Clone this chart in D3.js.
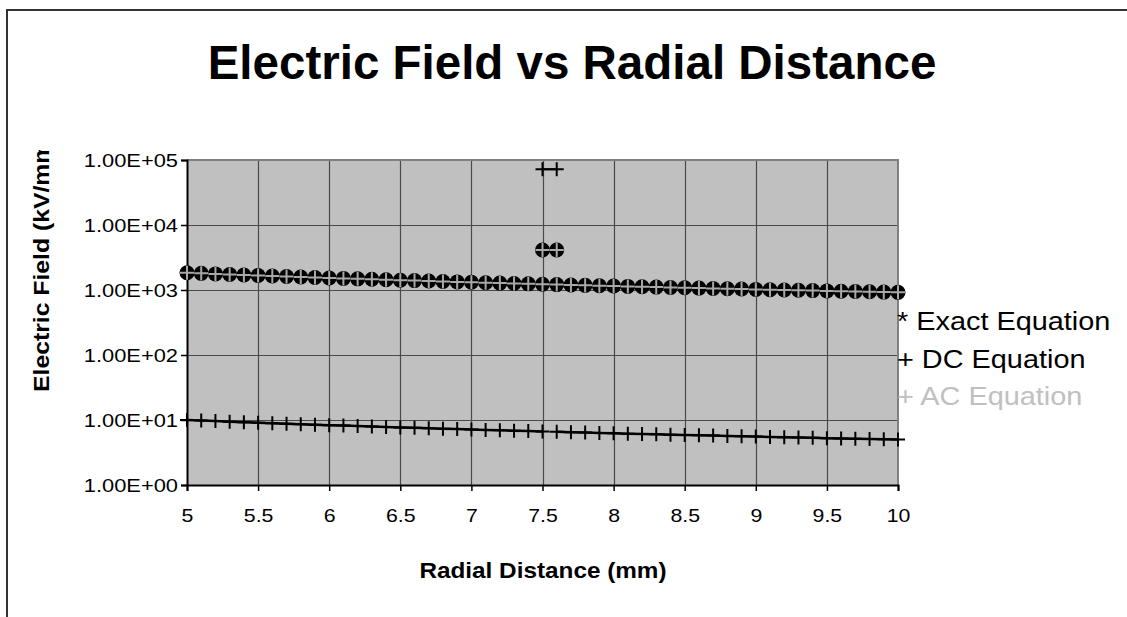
<!DOCTYPE html>
<html><head><meta charset="utf-8">
<script src="https://cdn.jsdelivr.net/npm/d3@7"></script>
<style>body{margin:0;background:#fff}svg{display:block}text{font-family:Arial,"Liberation Sans",sans-serif}</style>
</head><body><svg id="c" width="1127" height="617"></svg>
<script>
const radial = [5.0,5.1,5.2,5.3,5.4,5.5,5.6,5.7,5.8,5.9,6.0,6.1,6.2,6.3,6.4,6.5,6.6,6.7,6.8,6.9,7.0,7.1,7.2,7.3,7.4,7.5,7.6,7.7,7.8,7.9,8.0,8.1,8.2,8.3,8.4,8.5,8.6,8.7,8.8,8.9,9.0,9.1,9.2,9.3,9.4,9.5,9.6,9.7,9.8,9.9,10.0];
const exactEq = [1840,1804,1769,1736,1704,1673,1643,1614,1586,1559,1533,1508,1484,1460,1438,1415,1394,1373,1353,1333,1314,1296,1278,1260,1243,1227,1211,1195,1179,1165,1150,1136,1122,1108,1095,1082,1070,1057,1045,1034,1022,1011,1000,989,979,968,958,948,939,929,920];
const acEq = [1840,1804,1769,1736,1704,1673,1643,1614,1586,1559,1533,1508,1484,1460,1438,1415,1394,1373,1353,1333,1314,1296,1278,1260,1243,1227,1211,1195,1179,1165,1150,1136,1122,1108,1095,1082,1070,1057,1045,1034,1022,1011,1000,989,979,968,958,948,939,929,920];
const dcEq = [10.0,9.80,9.62,9.43,9.26,9.09,8.93,8.77,8.62,8.47,8.33,8.20,8.06,7.94,7.81,7.69,7.58,7.46,7.35,7.25,7.14,7.04,6.94,6.85,6.76,6.67,6.58,6.49,6.41,6.33,6.25,6.17,6.10,6.02,5.95,5.88,5.81,5.75,5.68,5.62,5.56,5.49,5.43,5.38,5.32,5.26,5.21,5.15,5.10,5.05,5.00];
const dcBreakAfter = 7.5;
const spikeRadial = [7.5, 7.6];
const spikeExact = [4120, 4120];
const spikeAC = [4120, 4120];
const spikeDC = [72000, 72000];
const xTicks = [5,5.5,6,6.5,7,7.5,8,8.5,9,9.5,10];
const yTicks = [1,10,100,1000,10000,100000];
const yTickLabels = ["1.00E+00","1.00E+01","1.00E+02","1.00E+03","1.00E+04","1.00E+05"];
const legendItems = ["* Exact Equation","+ DC Equation","+ AC Equation"];

const svg = d3.select("#c");
const L=187,R=898,T=160,B=485;
const x = d3.scaleLinear().domain([5,10]).range([L,R]);
const y = d3.scaleLog().domain([1,100000]).range([B,T]);

function stretch(sel,k){ sel.each(function(){ const n=this; const len=n.getComputedTextLength(); d3.select(n).attr("textLength",len*k).attr("lengthAdjust","spacingAndGlyphs"); }); }

// outer frame
svg.append("path").attr("d","M7,617V10H1127").attr("fill","none").attr("stroke","#333").attr("stroke-width",2);

// title
svg.append("text").attr("x",572).attr("y",79).attr("text-anchor","middle")
  .attr("font-size",47.5).attr("font-weight","bold").text("Electric Field vs Radial Distance");

// plot background
svg.append("rect").attr("x",L).attr("y",T).attr("width",R-L).attr("height",B-T).attr("fill","#c0c0c0");

// grid
const g = svg.append("g");
g.selectAll(".hg").data(yTicks.slice(1,-1)).join("line")
  .attr("x1",L).attr("x2",R).attr("y1",d=>Math.round(y(d))+0.5).attr("y2",d=>Math.round(y(d))+0.5)
  .attr("stroke","#4a4a4a").attr("stroke-width",1.2);
g.selectAll(".vg").data(xTicks.slice(1,-1)).join("line")
  .attr("y1",T).attr("y2",B).attr("x1",d=>Math.round(x(d))+0.5).attr("x2",d=>Math.round(x(d))+0.5)
  .attr("stroke","#4a4a4a").attr("stroke-width",1.2);
// top & right border
svg.append("path").attr("d",`M${L},${T}H${R}V${B}`).attr("fill","none").attr("stroke","#808080").attr("stroke-width",2);

// axes
const yAxis = d3.axisLeft(y).tickValues(yTicks).tickFormat((d,i)=>yTickLabels[i]).tickSize(6).tickPadding(3);
const ya = svg.append("g").attr("transform",`translate(${L},0)`).call(yAxis);
const xAxis = d3.axisBottom(x).tickValues(xTicks).tickFormat(d=>String(d)).tickSize(6).tickPadding(18);
const xa = svg.append("g").attr("transform",`translate(0,${B})`).call(xAxis);
[ya,xa].forEach(a=>{
  a.select(".domain").attr("stroke","#000").attr("stroke-width",2);
  a.selectAll(".tick line").attr("stroke","#000").attr("stroke-width",1.5);
  a.selectAll(".tick text").attr("font-size",19).attr("fill","#000").attr("font-family","Arial,'Liberation Sans',sans-serif");
});
stretch(ya.selectAll(".tick text"),1.15);
stretch(xa.selectAll(".tick text"),1.12);

// axis titles
const xt = svg.append("text").attr("x",543).attr("y",578).attr("text-anchor","middle")
  .attr("font-size",22.5).attr("font-weight","bold").text("Radial Distance (mm)");
stretch(xt,1.08);
svg.append("clipPath").attr("id","ytclip").append("rect").attr("x",0).attr("y",150).attr("width",120).attr("height",400);
const ytg = svg.append("g").attr("clip-path","url(#ytclip)");
const yt = ytg.append("text")
  .attr("transform","translate(49,392) rotate(-90)").attr("text-anchor","start")
  .attr("font-size",22.5).attr("font-weight","bold").text("Electric Field (kV/mm)");
stretch(yt,1.1);

// DC series line (break after 7.5)
const pts = radial.map((r,i)=>({r,dc:dcEq[i],ex:exactEq[i],ac:acEq[i]}));
const line = d3.line().x(d=>x(d.r)).y(d=>y(d.v));
const seg1 = pts.filter(d=>d.r<=dcBreakAfter).map(d=>({r:d.r,v:d.dc}));
const seg2 = pts.filter(d=>d.r>dcBreakAfter).map(d=>({r:d.r,v:d.dc}));
[seg1,seg2].forEach(s=>svg.append("path").attr("d",line(s)).attr("fill","none").attr("stroke","#000").attr("stroke-width",2.5));
const spikeDCPts = spikeRadial.map((r,i)=>({r,v:spikeDC[i]}));
svg.append("path").attr("d",line(spikeDCPts)).attr("fill","none").attr("stroke","#000").attr("stroke-width",2);

function plus(sel, data, size, color, sw){
  sel.selectAll(null).data(data).join("path")
    .attr("d",d=>{const cx=x(d.r),cy=y(d.v),h=size/2;return `M${cx-h},${cy}H${cx+h}M${cx},${cy-h}V${cy+h}`;})
    .attr("stroke",color).attr("stroke-width",sw).attr("fill","none");
}
plus(svg.append("g"), pts.map(d=>({r:d.r,v:d.dc})), 14, "#000", 2);
plus(svg.append("g"), spikeDCPts, 14, "#000", 2);

// AC line (light grey) behind exact markers
const acPts = pts.map(d=>({r:d.r,v:d.ac}));
svg.append("path").attr("d",line(acPts)).attr("fill","none").attr("stroke","#a8a8a8").attr("stroke-width",1.5);

// Exact markers
const exPts = pts.map(d=>({r:d.r,v:d.ex})).concat(spikeRadial.map((r,i)=>({r,v:spikeExact[i]})));
svg.append("g").selectAll("circle").data(exPts).join("circle")
  .attr("cx",d=>x(d.r)).attr("cy",d=>y(d.v)).attr("r",7.5).attr("fill","#000");
// AC markers
plus(svg.append("g"), acPts.concat(spikeRadial.map((r,i)=>({r,v:spikeAC[i]}))), 14, "#a8a8a8", 2);

// legend
const legColors = ["#000","#000","#c0c0c0"];
const lg = svg.append("g").selectAll("text").data(legendItems).join("text")
  .attr("x",897).attr("y",(d,i)=>330+i*37.5).attr("font-size",26)
  .attr("fill",(d,i)=>legColors[i]).text(d=>d);
stretch(lg,1.11);
</script></body></html>
